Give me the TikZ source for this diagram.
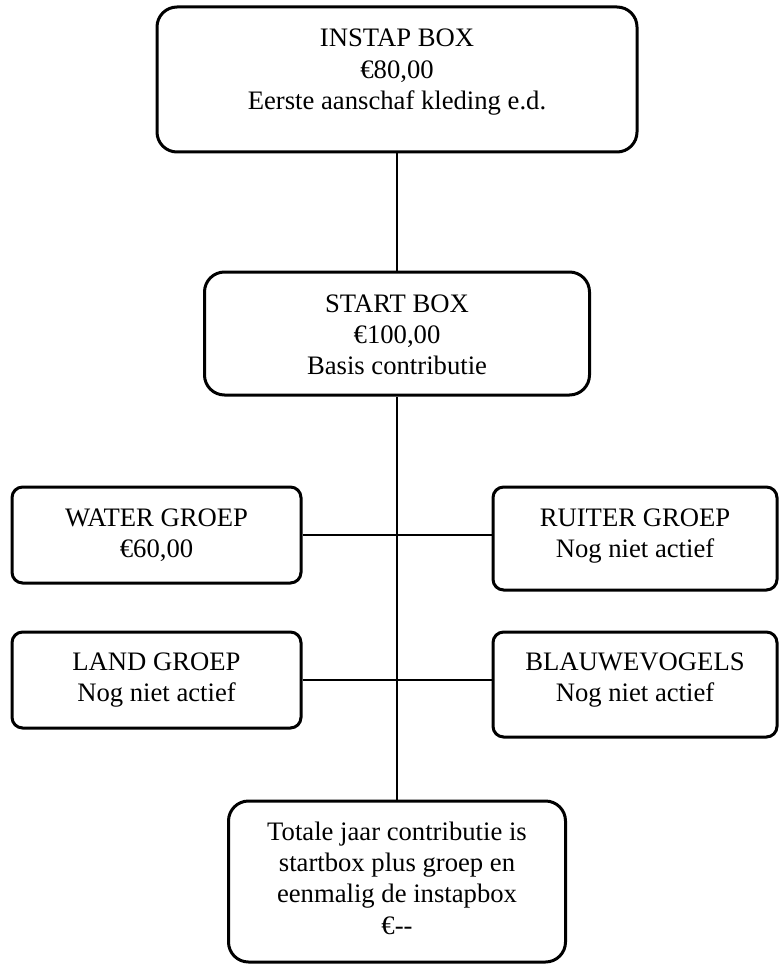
\documentclass[tikz,border=0pt]{standalone}
\usepackage{fontspec}
\setmainfont{Liberation Serif}
\begin{document}
\begin{tikzpicture}[x=0.75pt,y=-0.75pt,
  box/.style 2 args={draw, line width=2.25pt, fill=white, inner sep=0pt,
    minimum width=#1*0.75pt, minimum height=#2*0.75pt},
  bigbox/.style 2 args={box={#1}{#2}, rounded corners=15pt},
  smallbox/.style 2 args={box={#1}{#2}, rounded corners=8pt},
  txt/.style={inner sep=0pt, anchor=base, font=\fontsize{20}{23.6}\selectfont},
  conn/.style={draw, line width=1pt}]
\useasboundingbox[fill=white] (0,0) rectangle (778,966);

% boxes
\node[bigbox={480}{145}] (instap) at (397,79.5) {};
\node[bigbox={385}{123}] (start) at (397,333.5) {};
\node[smallbox={289}{96}] (water) at (156.5,535) {};
\node[smallbox={284}{103}] (ruiter) at (635,538.5) {};
\node[smallbox={289}{96}] (land) at (156.5,680) {};
\node[smallbox={284}{105}] (blauw) at (635,684.5) {};
\node[bigbox={337}{161}] (total) at (397,881.5) {};

% connectors
\draw[conn] (instap.south) -- (instap.south |- start.north);
\draw[conn] (start.south) -- (start.south |- total.north);
\draw[conn] (water.east) -- (water.east -| ruiter.west);
\draw[conn] (land.east) -- (land.east -| blauw.west);

% texts
\node[txt] (instap-t) at (397,47) {\begin{tabular}[t]{@{}c@{}}INSTAP BOX\\ €80,00\\ Eerste aanschaf kleding e.d.\end{tabular}};
\node[txt] (start-t) at (397,312) {\begin{tabular}[t]{@{}c@{}}START BOX\\ €100,00\\ Basis contributie\end{tabular}};
\node[txt] (water-t) at (156.5,526) {\begin{tabular}[t]{@{}c@{}}WATER GROEP\\ €60,00\end{tabular}};
\node[txt] (ruiter-t) at (635,526) {\begin{tabular}[t]{@{}c@{}}RUITER GROEP\\ Nog niet actief\end{tabular}};
\node[txt] (land-t) at (156.5,670) {\begin{tabular}[t]{@{}c@{}}LAND GROEP\\ Nog niet actief\end{tabular}};
\node[txt] (blauw-t) at (635,670) {\begin{tabular}[t]{@{}c@{}}BLAUWEVOGELS\\ Nog niet actief\end{tabular}};
\node[txt] (total-t) at (397,840) {\begin{tabular}[t]{@{}c@{}}Totale jaar contributie is\\ startbox plus groep en\\ eenmalig de instapbox\\ €-{}-\end{tabular}};
\end{tikzpicture}
\end{document}
